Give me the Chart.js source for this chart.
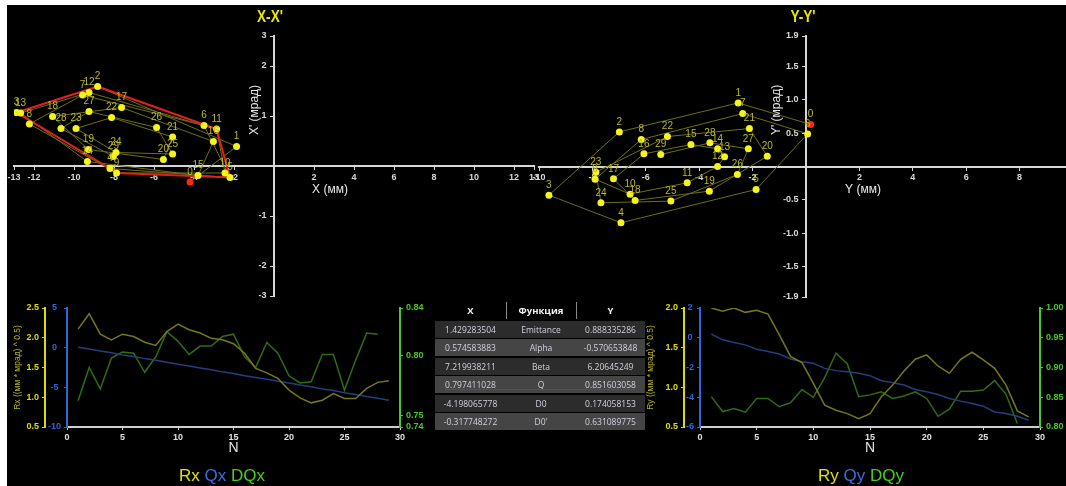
<!DOCTYPE html>
<html>
<head>
<meta charset="utf-8">
<title>X-X' / Y-Y'</title>
<script src="https://cdn.jsdelivr.net/npm/chart.js@4.4.1/dist/chart.umd.min.js"></script>
<style>
  html, body { margin:0; padding:0; width:1066px; height:486px; overflow:hidden; background:#fff; }
  #stage { position:absolute; left:0; top:0; width:1066px; height:486px; overflow:hidden; }
  #panel { position:absolute; left:7px; top:5px; right:0; bottom:0; background:#000; }
  canvas { position:absolute; }
  .ttl { position:absolute; top:7px; color:#e8e800; font:bold 17px "Liberation Sans",Arial,sans-serif; transform:translateX(-50%) scaleX(0.8); white-space:nowrap; }
  .leg { position:absolute; top:466px; font:17px "Liberation Sans",Arial,sans-serif; transform:translateX(-50%); white-space:nowrap; }
  .cell { position:absolute; height:17px; line-height:17px; text-align:center; font-family:"Open Sans","Liberation Sans",sans-serif; font-size:8.5px; color:#d4d0de; white-space:nowrap; }
  .hdr { font-weight:bold; color:#f2f2f2; font-size:9.5px; }
</style>
</head>
<body>
<div id="stage">
  <div id="panel"></div>
  <canvas id="phaseX" width="560" height="310" style="left:0;top:0"></canvas>
  <canvas id="phaseY" width="560" height="310" style="left:525px;top:0"></canvas>
  <canvas id="turnsX" width="440" height="175" style="left:0;top:290px"></canvas>
  <canvas id="turnsY" width="426" height="175" style="left:640px;top:290px"></canvas>
  <div class="ttl" style="left:270px">X-X'</div>
  <div class="ttl" style="left:803px">Y-Y'</div>
  <div class="leg" style="left:222px"><span style="color:#e2e200">Rx</span> <span style="color:#3a6fe0">Qx</span> <span style="color:#45d01e">DQx</span></div>
  <div class="leg" style="left:861px"><span style="color:#e2e200">Ry</span> <span style="color:#3a6fe0">Qy</span> <span style="color:#45d01e">DQy</span></div>
  <div id="tbl"></div>
</div>
<script>
// ---- Twiss parameter table ----
const paramNames = ['Emittance', 'Alpha', 'Beta', 'Q', 'D0', "D0'"];
const paramX = [1.429283504, 0.574583883, 7.219938211, 0.797411028, -4.198065778, -0.317748272];
const paramY = [0.888335286, -0.570653848, 6.20645249, 0.851603058, 0.174058153, 0.631089775];

// ---- Phase-space points per turn (turn 0 = initial D0, D0') ----
const posX = [paramX[4], -1.87, -8.82, -12.87, -8.2, -2.2, -3.5, -9.57, -12.23, -7.87,
              -2.45, -2.87, -9.25, -12.67, -9.33, -3.8, -3.03, -7.62, -11.07, -9.28,
              -5.53, -5.07, -8.12, -9.9, -7.9, -5.07, -5.87, -9.25, -10.65, -8.03];
const angX = [paramX[5], 0.39, 1.59, 1.07, -0.05, -0.23, 0.81, 1.42, 0.84, -0.14,
              -0.14, 0.74, 1.47, 1.06, 0.09, -0.19, 0.49, 1.17, 0.99, 0.33,
              0.13, 0.58, 0.97, 0.75, 0.27, 0.24, 0.77, 1.09, 0.75, 0.19];
// outline of the X beam (turn indices, closed)
const hullX = [2, 3, 4, 9, 5, 11, 2];

const posY = [paramY[4], -2.54, -6.99, -9.63, -6.93, -1.87, 0.06, -2.37, -6.17, -7.9,
              -6.59, -4.45, -3.31, -3.05, -3.31, -4.31, -6.07, -7.21, -6.4, -3.62,
              -1.45, -2.12, -5.19, -7.87, -7.68, -5.06, -2.57, -2.16, -3.6, -5.44];
const angY = [paramY[5], 0.955, 0.52, -0.43, -0.845, -0.345, 0.49, 0.795, 0.405, -0.19,
              -0.415, -0.245, 0.0, 0.145, 0.265, 0.33, 0.19, -0.185, -0.51, -0.37,
              0.155, 0.57, 0.45, -0.085, -0.545, -0.52, -0.12, 0.265, 0.355, 0.18];

// ---- Axis ticks of the phase plots ----
const ticksPosX = [-13, -12, -10, -8, -6, -4, -2, 2, 4, 6, 8, 10, 12, 13];
const ticksAngX = [-2.6, -2, -1, 1, 2, 2.6];
const ticksAngXText = ['-3', '-2', '-1', '1', '2', '3'];
const ticksPosY = [-10, -8, -6, -4, -2, 2, 4, 6, 8, 10];
const ticksAngY = [-1.96, -1.5, -1, -0.5, 0.5, 1, 1.5, 1.96];
const ticksAngYText = ['-1.9', '-1.5', '-1.0', '-0.5', '0.5', '1.0', '1.5', '1.9'];

// ---- Per-turn parameters ----
const turnN = [1, 2, 3, 4, 5, 6, 7, 8, 9, 10, 11, 12, 13, 14, 15, 16, 17, 18, 19, 20,
               21, 22, 23, 24, 25, 26, 27, 28, 29];
const rx = [2.145, 2.404, 2.06, 1.965, 2.06, 2.02, 1.925, 1.87, 2.105, 2.23,
            2.134, 2.08, 1.99, 1.965, 1.90, 1.74, 1.486, 1.41, 1.317, 1.12,
            0.99, 0.906, 0.95, 1.063, 0.979, 0.979, 1.148, 1.25, 1.277];
const qx = [0.06, -0.17, -0.43, -0.65, -0.91, -1.12, -1.38, -1.6, -1.84, -2.1,
            -2.32, -2.55, -2.79, -3.05, -3.27, -3.53, -3.75, -3.98, -4.24, -4.46,
            -4.72, -4.94, -5.2, -5.41, -5.67, -5.89, -6.15, -6.37, -6.62];
const dqx = [0.762, 0.790, 0.772, 0.798, 0.803, 0.802, 0.786, 0.799, 0.820, 0.812,
             0.801, 0.808, 0.808, 0.816, 0.818, 0.799, 0.790, 0.811, 0.802, 0.783,
             0.777, 0.778, 0.801, 0.801, 0.771, 0.796, 0.819, 0.818];
const ry = [2.0, 1.958, 2.0, 1.945, 1.97, 1.924, 1.662, 1.387, 1.311, 1.05,
            0.775, 0.711, 0.669, 0.606, 0.669, 0.88, 1.028, 1.206, 1.354, 1.409,
            1.269, 1.176, 1.354, 1.442, 1.345, 1.24, 1.028, 0.703, 0.627];
const qy = [0.24, -0.14, -0.32, -0.48, -0.77, -0.93, -1.09, -1.43, -1.61, -1.72,
            -2.06, -2.21, -2.28, -2.39, -2.55, -2.89, -3.03, -3.18, -3.48, -3.63,
            -3.81, -4.08, -4.26, -4.42, -4.6, -4.99, -5.10, -5.28, -5.55];
const dqy = [0.851, 0.826, 0.831, 0.825, 0.848, 0.848, 0.834, 0.841, 0.863, 0.850,
             0.883, 0.924, 0.906, 0.851, 0.854, 0.859, 0.848, 0.852, 0.859, 0.848,
             0.818, 0.830, 0.860, 0.860, 0.862, 0.878, 0.855, 0.806];
const ticksTurnN = [0, 5, 10, 15, 20, 25, 30];
const ticksDqx = [0.74, 0.75, 0.80, 0.84];

Chart.defaults.font.family = '"Liberation Sans", Arial, sans-serif';
Chart.defaults.animation = false;
Chart.defaults.events = [];
Chart.defaults.plugins.legend.display = false;
Chart.defaults.plugins.tooltip.enabled = false;

const C_AXIS = '#d6d6d6';
const C_TICK = '#dadada';

// turn numbers above each point
const pointLabels = {
  id: 'pointLabels',
  afterDatasetsDraw(chart, args, opts) {
    const ctx = chart.ctx;
    const meta = chart.getDatasetMeta(opts.datasetIndex);
    ctx.save();
    ctx.font = '10px "Liberation Sans", Arial, sans-serif';
    ctx.fillStyle = '#b9b92c';
    ctx.textAlign = 'center';
    ctx.textBaseline = 'middle';
    meta.data.forEach((el, i) => ctx.fillText(String(i), el.x, el.y - 10));
    ctx.restore();
  }
};

// axis captions placed next to the crossing axes
const axisCaptions = {
  id: 'axisCaptions',
  afterDraw(chart, args, o) {
    const ctx = chart.ctx;
    const x0 = chart.scales.x.getPixelForValue(0);
    const y0 = chart.scales.y.getPixelForValue(0);
    ctx.save();
    ctx.font = '12px "Liberation Sans", Arial, sans-serif';
    ctx.fillStyle = '#e8e8e8';
    ctx.textAlign = 'center';
    ctx.textBaseline = 'middle';
    ctx.fillText(o.xText, x0 + o.xDx, y0 + o.xDy);
    ctx.translate(x0 + o.yDx, chart.scales.y.getPixelForValue(o.yAt));
    ctx.rotate(-Math.PI / 2);
    ctx.fillText(o.yText, 0, 0);
    ctx.restore();
  }
};

function phaseChart(id, c) {
  const pts = c.xs.map((x, i) => ({x, y: c.ys[i]}));
  const datasets = [
    {data: pts.map(p => ({...p})), showLine: true, borderColor: '#6e6e1c', borderWidth: 1, pointRadius: 0, order: 3}
  ];
  if (c.hull) {
    datasets.push({data: c.hull.map(i => ({...pts[i]})), showLine: true, borderColor: '#e3201b',
                   borderWidth: 2, pointRadius: 0, order: 2});
  }
  datasets.push({data: pts, showLine: false, pointRadius: 3.5, pointBorderWidth: 0,
                 pointBackgroundColor: ctx => ctx.dataIndex === 0 ? '#ff2a12' : '#f4f41e', order: 1});
  const tickFont = {size: 9, weight: 'bold'};
  return new Chart(document.getElementById(id), {
    type: 'scatter',
    data: {datasets},
    options: {
      responsive: false,
      layout: {padding: c.pad},
      scales: {
        x: {
          type: 'linear', position: {y: 0}, min: c.xMin, max: c.xMax,
          afterBuildTicks: s => { s.ticks = c.xTicks.map(v => ({value: v})); },
          afterFit: s => { s.paddingLeft = 0; s.paddingRight = 0; },
          ticks: {autoSkip: false, maxRotation: 0, color: C_TICK, font: tickFont, padding: 3},
          grid: {drawOnChartArea: false, color: C_AXIS, tickLength: 3},
          border: {color: C_AXIS, width: 2}
        },
        y: {
          type: 'linear', position: {x: 0}, min: c.yMin, max: c.yMax,
          afterBuildTicks: s => { s.ticks = c.yTicks.map(v => ({value: v})); },
          afterFit: s => { s.paddingTop = 0; s.paddingBottom = 0; },
          ticks: {autoSkip: false, color: C_TICK, font: tickFont,
                  callback: (v, i) => c.yText[i] + '   '},
          grid: {drawOnChartArea: false, color: C_AXIS, tickLength: 3},
          border: {color: C_AXIS, width: 2}
        }
      },
      plugins: {
        pointLabels: {datasetIndex: datasets.length - 1},
        axisCaptions: c.captions
      }
    },
    plugins: [pointLabels, axisCaptions]
  });
}

phaseChart('phaseX', {
  xs: posX, ys: angX, hull: hullX,
  xMin: -13, xMax: 13, yMin: -2.6, yMax: 2.6,
  xTicks: ticksPosX, yTicks: ticksAngX, yText: ticksAngXText,
  pad: {left: 14, right: 26, top: 36, bottom: 14},
  captions: {xText: 'X (мм)', xDx: 56, xDy: 24, yText: "X' (мрад)", yDx: -19, yAt: 1.12}
});

phaseChart('phaseY', {
  xs: posY, ys: angY, hull: null,
  xMin: -10, xMax: 10, yMin: -1.96, yMax: 1.96,
  xTicks: ticksPosY, yTicks: ticksAngY, yText: ticksAngYText,
  pad: {left: 14, right: 12, top: 36, bottom: 13},
  captions: {xText: 'Y (мм)', xDx: 57, xDy: 23, yText: "Y' (мрад)", yDx: -29, yAt: 0.85}
});

function series(vals, color) {
  return {data: vals.map((v, i) => ({x: turnN[i], y: v})), borderColor: color, borderWidth: 1.5,
          pointRadius: 0, fill: false, tension: 0};
}

function axisY(o) {
  const s = {
    type: 'linear', position: o.pos, weight: o.weight || 0, min: o.min, max: o.max,
    afterFit: sc => { sc.width = o.width; },
    ticks: {color: o.color, font: {size: 9, weight: 'bold'}, padding: 3, crossAlign: o.cross || 'near',
            callback: o.fmt},
    grid: {drawOnChartArea: false, color: o.color, tickLength: 3},
    border: {color: o.color, width: 2}
  };
  if (o.step) s.ticks.stepSize = o.step;
  if (o.list) s.afterBuildTicks = sc => { sc.ticks = o.list.map(v => ({value: v})); };
  if (o.title) s.title = {display: true, text: o.title, color: '#b4b41e', font: {size: 8.5},
                          padding: {top: o.titlePad, bottom: 0}};
  return s;
}

function axisN() {
  return {
    type: 'linear', position: 'bottom', min: 0, max: 30,
    afterBuildTicks: s => { s.ticks = ticksTurnN.map(v => ({value: v})); },
    afterFit: s => { s.height = 34; },
    ticks: {color: '#e2e2e2', font: {size: 9, weight: 'bold'}, padding: 2, maxRotation: 0},
    grid: {drawOnChartArea: false, color: '#cfcfcf', tickLength: 3},
    border: {color: '#cfcfcf', width: 2},
    title: {display: true, text: 'N', color: '#e2e2e2', font: {size: 14}}
  };
}

new Chart(document.getElementById('turnsX'), {
  type: 'line',
  data: {datasets: [
    Object.assign(series(rx, '#77771c'), {yAxisID: 'yR'}),
    Object.assign(series(qx, '#20407f'), {yAxisID: 'yQ'}),
    Object.assign(series(dqx, '#2f6d16'), {yAxisID: 'yD'})
  ]},
  options: {
    responsive: false,
    layout: {padding: {left: 9, right: 10, top: 18, bottom: 4}},
    scales: {
      x: axisN(),
      yR: axisY({pos: 'left', weight: 1, min: 0.5, max: 2.5, step: 0.5, width: 36, color: '#dcdc00',
                 fmt: v => v.toFixed(1), title: 'Rx ((мм * мрад) ^ 0.5)', titlePad: 4}),
      yQ: axisY({pos: 'left', weight: 0, min: -10, max: 5, step: 5, width: 22, color: '#2f66dc',
                 cross: 'center', fmt: v => String(v)}),
      yD: axisY({pos: 'right', min: 0.74, max: 0.84, list: ticksDqx, width: 30, color: '#4cc82a',
                 fmt: v => v.toFixed(2)})
    }
  }
});

new Chart(document.getElementById('turnsY'), {
  type: 'line',
  data: {datasets: [
    Object.assign(series(ry, '#77771c'), {yAxisID: 'yR'}),
    Object.assign(series(qy, '#20407f'), {yAxisID: 'yQ'}),
    Object.assign(series(dqy, '#2f6d16'), {yAxisID: 'yD'})
  ]},
  options: {
    responsive: false,
    layout: {padding: {left: 5, right: 0, top: 18, bottom: 4}},
    scales: {
      x: axisN(),
      yR: axisY({pos: 'left', weight: 1, min: 0.5, max: 2.0, step: 0.5, width: 39, color: '#dcdc00',
                 fmt: v => v.toFixed(1), title: 'Ry ((мм * мрад) ^ 0.5)', titlePad: 1}),
      yQ: axisY({pos: 'left', weight: 0, min: -6, max: 2, step: 2, width: 16, color: '#2f66dc',
                 cross: 'center', fmt: v => String(v)}),
      yD: axisY({pos: 'right', min: 0.80, max: 1.00, step: 0.05, width: 26, color: '#4cc82a',
                 fmt: v => v.toFixed(2)})
    }
  }
});

// ---- parameter table ----
(function buildTable() {
  const tbl = document.getElementById('tbl');
  const cols = [{left: 435, w: 71}, {left: 506, w: 70}, {left: 576, w: 69}];
  const add = (html, style, cls) => {
    const d = document.createElement('div');
    d.className = cls || 'cell';
    d.textContent = html;
    Object.assign(d.style, style);
    tbl.appendChild(d);
    return d;
  };
  ['X', 'Функция', 'Y'].forEach((t, i) => {
    add(t, {left: cols[i].left + 'px', width: cols[i].w + 'px', top: '302px'}, 'cell hdr');
  });
  [506, 576].forEach(x => add('', {left: x + 'px', top: '302px', width: '1px', height: '17px', background: '#8a8a8a'}, 'cell'));
  paramNames.forEach((name, r) => {
    const top = 321 + r * 18.4;
    add('', {left: '435px', width: '210px', top: top + 'px', background: r % 2 ? '#454545' : '#2c2c2c'}, 'cell');
    const vals = [String(paramX[r]), name, String(paramY[r])];
    vals.forEach((t, i) => add(t, {left: cols[i].left + 'px', width: cols[i].w + 'px', top: top + 'px'}));
  });
  add('', {left: '445px', width: '190px', top: '388.5px', height: '1.5px', background: '#e01414'}, 'cell');
})();
</script>
</body>
</html>
